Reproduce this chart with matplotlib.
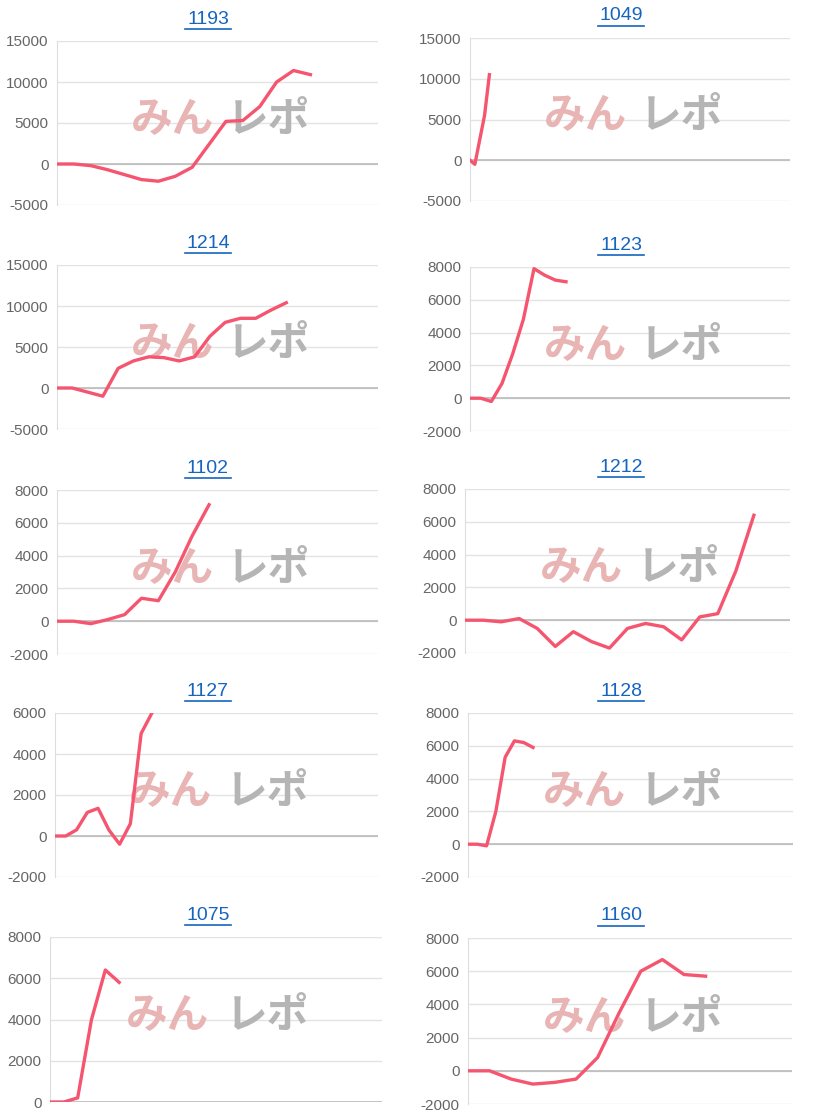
import matplotlib
matplotlib.use("Agg")
import matplotlib.pyplot as plt
from matplotlib.lines import Line2D

titles = ["1193", "1049", "1214", "1123", "1102", "1212", "1127", "1128", "1075", "1160"]
xs = [
    list(range(16)),
    [0, 1, 3, 4],
    list(range(16)),
    list(range(10)),
    list(range(10)),
    list(range(17)),
    list(range(10)),
    list(range(8)),
    list(range(6)),
    list(range(12)),
]
ys = [
    [0, 0, -200, -700, -1300, -1900, -2100, -1500, -400, 2400, 5200, 5300, 7000, 10000, 11400, 10900],
    [0, -500, 5500, 10500],
    [0, 0, -500, -1000, 2400, 3300, 3800, 3700, 3300, 3800, 6300, 8000, 8500, 8500, 9500, 10400],
    [0, 0, -200, 900, 2700, 4800, 7900, 7500, 7200, 7100],
    [0, 0, -150, 100, 400, 1400, 1250, 3000, 5200, 7100],
    [0, 0, -100, 100, -500, -1600, -700, -1300, -1700, -500, -200, -400, -1200, 200, 400, 3000, 6400],
    [0, 0, 300, 1150, 1350, 300, -400, 600, 5000, 6000],
    [0, 0, -100, 2000, 5300, 6300, 6200, 5900],
    [0, 0, 200, 4000, 6400, 5800],
    [0, 0, -500, -800, -700, -500, 800, 3500, 6000, 6700, 5800, 5700],
]
xmaxs = [19, 66, 21, 30, 19, 18, 30, 35, 24, 15]
ylims = [(-5000, 15000), (-5000, 15000), (-5000, 15000), (-2000, 8000), (-2000, 8000),
         (-2000, 8000), (-2000, 6000), (-2000, 8000), (0, 8000), (-2000, 8000)]
yticks = [range(-5000, 15001, 5000)] * 3 + [range(-2000, 8001, 2000)] * 3 + \
         [range(-2000, 6001, 2000), range(-2000, 8001, 2000), range(0, 8001, 2000), range(-2000, 8001, 2000)]

W, H = 824, 1120
fig = plt.figure(figsize=(W / 100, H / 100), dpi=100)
plt.rcParams['font.family'] = ['Liberation Sans', 'DejaVu Sans']
plt.rcParams['axes.unicode_minus'] = False

boxes = [
    (57, 378, 41, 205), (470, 790, 38, 201),
    (57, 378, 265, 429), (470, 790, 267, 431),
    (57, 378, 490, 654), (465, 790, 489, 653),
    (55, 378, 713, 877), (468, 793, 713, 877),
    (50, 382, 937, 1102), (468, 792, 938, 1104),
]
for i, (l, r, t, b) in enumerate(boxes):
    ax = fig.add_axes([l / W, 1 - b / H, (r - l) / W, (b - t) / H])
    ax.set_xlim(0, xmaxs[i])
    ax.set_ylim(*ylims[i])
    ax.set_yticks(list(yticks[i]))
    ax.set_xticks([])
    for s in ["top", "right", "bottom"]:
        ax.spines[s].set_visible(False)
    ax.spines["left"].set_color("#dddddd")
    ax.tick_params(axis="y", length=0, labelsize=11, labelcolor="#666666", pad=6)
    ax.grid(axis="y", color="#e3e3e3", lw=1)
    ax.axhline(0, color="#bbbbbb", lw=1.2)
    ax.set_axisbelow(True)
    ax.text(0.23, 0.52, "みん", transform=ax.transAxes, family=["Noto Sans CJK JP"],
            fontweight="bold", fontsize=30, color="#e8b4b4", va="center", ha="left", zorder=1)
    ax.text(0.53, 0.52, "レポ", transform=ax.transAxes, family=["Noto Sans CJK JP"],
            fontweight="bold", fontsize=30, color="#b5b5b5", va="center", ha="left", zorder=1)
    ax.plot(xs[i], ys[i], color="#f5556f", lw=2.4, solid_joinstyle="round", zorder=3, clip_on=True)
    cx = 208 / W if i % 2 == 0 else 621 / W
    ty = 1 - (t - 22) / H
    fig.text(cx, ty, titles[i], ha="center", va="center", fontsize=14, color="#1565c0")
    fig.add_artist(Line2D([cx - 23 / W, cx + 23 / W], [ty - 10 / H, ty - 10 / H], color="#1565c0", lw=1.2))

fig.savefig("out.png", dpi=100, facecolor="white")
